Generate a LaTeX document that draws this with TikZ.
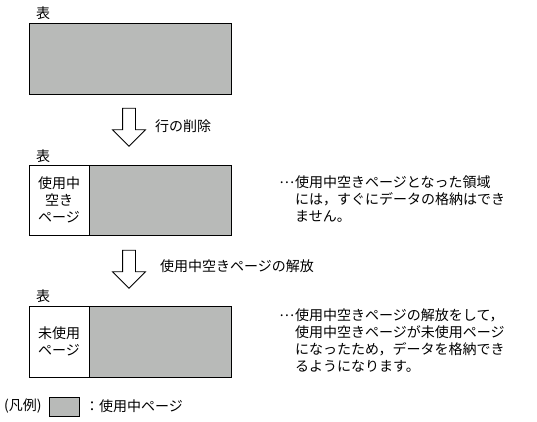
\documentclass[tikz,border=0pt]{standalone}
\usepackage{fontspec}
\setmainfont{Noto Sans CJK JP}
\usepackage{xcolor}
\usepackage{tikz}
\usetikzlibrary{shapes.arrows}
\definecolor{pagegray}{RGB}{184,186,184}
\newcommand{\lead}{\llap{\raisebox{0.3em}{…}\kern1pt}}

\begin{document}
\begin{tikzpicture}[x=1pt, y=-1pt, every node/.style={font=\fontsize{14}{17}\selectfont, inner sep=0pt}, tbl/.style={draw, line width=0.8pt, fill=pagegray, minimum width=202pt, minimum height=71pt}, freepage/.style={draw, line width=0.8pt, fill=white, minimum width=60pt, minimum height=71pt, align=center}, downarr/.style={draw, line width=0.8pt, fill=white, single arrow, single arrow head extend=10pt, single arrow head indent=0pt, text height=12pt, text depth=0pt, minimum height=38pt, rotate=-90}, note/.style={anchor=west, align=left}]
\useasboundingbox (0,0) rectangle (537,421);
\node (lbl1) at (43,13) {表};
\node[tbl] (tbl1) at (130,58.5) {};
\node[downarr] (arr1) at (129,124) {};
\node[note] (del) at (155,126) {行の削除};
\node (lbl2) at (43,156) {表};
\node[tbl, minimum height=70pt] (tbl2) at (130,200) {};
\node[freepage, minimum height=70pt] (free2) at (59,200) {使用中\\空き\\ページ};
\node[note] (desc1) at (295,199) {\lead 使用中空きページとなった領域\\には，すぐにデータの格納はでき\\ません。};
\node[downarr] (arr2) at (129,266) {};
\node[note] (rel) at (160,266) {使用中空きページの解放};
\node (lbl3) at (43,296) {表};
\node[tbl] (tbl3) at (130,341.5) {};
\node[freepage] (free3) at (59,341.5) {未使用\\ページ};
\node[note] (desc2) at (295,341) {\lead 使用中空きページの解放をして，\\使用中空きページが未使用ページ\\になったため，データを格納でき\\るようになります。};
% legend
\node[note] (leg) at (4,406) {(凡例)};
\node[draw, line width=0.8pt, fill=pagegray, minimum width=30pt, minimum height=19pt] (legbox) at (64,406.5) {};
\node[note] (legtxt) at (85,406) {：使用中ページ};
\end{tikzpicture}
\end{document}
